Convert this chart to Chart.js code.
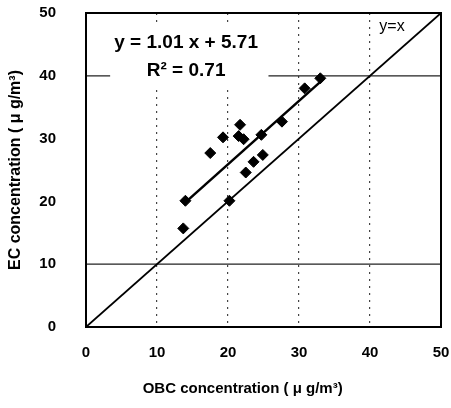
<!DOCTYPE html>
<html>
<head>
<meta charset="utf-8">
<script src="https://cdn.jsdelivr.net/npm/chart.js@4/dist/chart.umd.min.js"></script>
<style>
  body { margin: 0; background: #fff; }
  #wrap { width: 451px; height: 408px; }
</style>
</head>
<body>
<div id="wrap"><canvas id="scatterChart"></canvas></div>
<script>
// OBC vs EC concentration (ug/m3)
const obcValues = [13.7, 14.0, 17.5, 19.3, 20.2, 21.5, 21.7, 22.2, 22.5, 23.6, 24.7, 24.9, 27.6, 30.8, 33.0];
const ecValues  = [15.7, 20.1, 27.7, 30.2, 20.1, 30.4, 32.2, 29.9, 24.6, 26.3, 30.6, 27.4, 32.7, 38.0, 39.6];
const fitSlope = 1.01;
const fitIntercept = 5.71;
const fitRange = [14, 33];
const oneToOne = [0, 50];
const axisTicks = [0, 10, 20, 30, 40, 50];

const points = obcValues.map((v, i) => ({ x: v, y: ecValues[i] }));
const fitLine = fitRange.map(x => ({ x: x, y: fitSlope * x + fitIntercept }));
const oneLine = oneToOne.map(x => ({ x: x, y: x }));

const labelFont = '"Liberation Sans", Arial, sans-serif';

const overlay = {
    id: 'overlay',
    beforeDatasetsDraw(chart) {
        const { ctx, scales: { x, y } } = chart;
        ctx.save();
        // solid grid lines at 10 and 40
        ctx.strokeStyle = '#222';
        ctx.lineWidth = 1.2;
        [10, 40].forEach(v => {
            const py = y.getPixelForValue(v);
            ctx.beginPath();
            ctx.moveTo(x.left, py);
            ctx.lineTo(x.right, py);
            ctx.stroke();
        });
        // equation box covering grid line
        ctx.fillStyle = '#fff';
        const bx = x.getPixelForValue(3.4), bx2 = x.getPixelForValue(25.7);
        const by = y.getPixelForValue(48.5), by2 = y.getPixelForValue(38.5);
        ctx.fillRect(bx, by, bx2 - bx, by2 - by);
        ctx.restore();
    },
    afterDatasetsDraw(chart) {
        const { ctx, chartArea: a, scales: { x, y } } = chart;
        ctx.save();
        ctx.strokeStyle = '#000';
        ctx.lineWidth = 2;
        ctx.strokeRect(a.left, a.top, a.right - a.left, a.bottom - a.top);
        ctx.fillStyle = '#000';
        ctx.font = 'bold 19px ' + labelFont;
        ctx.textAlign = 'center';
        ctx.textBaseline = 'middle';
        ctx.fillText('y = 1.01 x + 5.71', x.getPixelForValue(14.1), y.getPixelForValue(45.3));
        ctx.fillText('R² = 0.71', x.getPixelForValue(14.1), y.getPixelForValue(40.8));
        ctx.font = '16px ' + labelFont;
        ctx.fillText('y=x', x.getPixelForValue(43.1), y.getPixelForValue(47.8));
        ctx.restore();
    }
};

new Chart(document.getElementById('scatterChart'), {
    type: 'scatter',
    data: {
        datasets: [
            {
                label: 'y=x',
                data: oneLine,
                showLine: true,
                borderColor: '#000',
                borderWidth: 1.8,
                pointRadius: 0
            },
            {
                label: 'fit',
                data: fitLine,
                showLine: true,
                borderColor: '#000',
                borderWidth: 2.5,
                pointRadius: 0
            },
            {
                label: 'samples',
                data: points,
                pointStyle: 'rectRot',
                pointRadius: 5.5,
                backgroundColor: '#000',
                borderColor: '#000'
            }
        ]
    },
    options: {
        responsive: true,
        maintainAspectRatio: false,
        animation: false,
        layout: { padding: { left: 0, right: 10, top: 13, bottom: 0 } },
        plugins: {
            legend: { display: false },
            tooltip: { enabled: false }
        },
        scales: {
            x: {
                type: 'linear',
                min: 0,
                max: 50,
                afterBuildTicks: s => { s.ticks = axisTicks.map(v => ({ value: v })); },
                afterFit: s => { s.height = 81; s.paddingLeft = 0; s.paddingRight = 0; },
                border: { display: false, dash: [2, 5] },
                grid: {
                    drawTicks: false,
                    color: ctx => (ctx.tick && ctx.tick.value > 0 && ctx.tick.value < 50) ? '#444' : 'rgba(0,0,0,0)',
                    lineWidth: 1.2
                },
                ticks: {
                    padding: 17,
                    color: '#000',
                    font: { family: labelFont, size: 15, weight: 'bold' }
                },
                title: {
                    display: true,
                    text: 'OBC concentration ( μ g/m³)' + '\u00a0'.repeat(10),
                    color: '#000',
                    font: { family: labelFont, size: 15, weight: 'bold' },
                    padding: { top: 8, bottom: 10 }
                }
            },
            y: {
                type: 'linear',
                min: 0,
                max: 50,
                afterBuildTicks: s => { s.ticks = axisTicks.map(v => ({ value: v })); },
                afterFit: s => { s.width = 86; s.paddingTop = 0; s.paddingBottom = 0; },
                border: { display: false },
                grid: { display: false, drawTicks: false },
                ticks: {
                    padding: 30,
                    color: '#000',
                    font: { family: labelFont, size: 15, weight: 'bold' }
                },
                title: {
                    display: true,
                    text: 'EC concentration ( μ g/m³)',
                    color: '#000',
                    font: { family: labelFont, size: 16, weight: 'bold' },
                    padding: { top: 6, bottom: 0 }
                }
            }
        }
    },
    plugins: [overlay]
});
</script>
</body>
</html>
